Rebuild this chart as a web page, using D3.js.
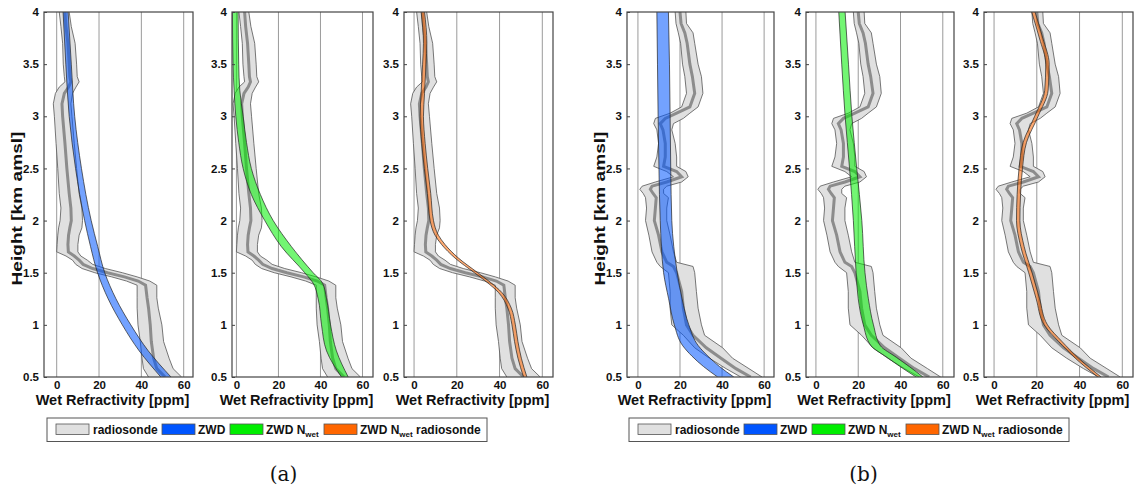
<!DOCTYPE html>
<html>
<head>
<meta charset="utf-8">
<script src="https://cdn.jsdelivr.net/npm/d3@7"></script>
<style>
  body { margin: 0; background: #fff; }
  text { font-family: "Liberation Sans", Arial, sans-serif; font-weight: bold; fill: #111; }
  .cap { font-family: "DejaVu Serif", "Liberation Serif", serif; font-weight: normal; }
</style>
</head>
<body>
<svg id="fig" width="1134" height="491"></svg>
<script>
// axis ticks
const yTicks = [0.5, 1, 1.5, 2, 2.5, 3, 3.5, 4];
const yTickLabels = ["0.5", "1", "1.5", "2", "2.5", "3", "3.5", "4"];
const xTicks = [0, 20, 40, 60];
const xDomains = [[-6, 64.4], [-2.1, 65], [-4.7, 65], [-5.2, 64.7], [-4.7, 65.3], [-4.7, 65]];

// radiosonde (a): height, mean, lower, upper
const rsA_h  = [4.00,3.86,3.70,3.50,3.38,3.33,3.28,3.22,3.12,3.00,2.74,2.50,2.26,2.12,2.00,1.93,1.86,1.77,1.70,1.66,1.62,1.58,1.54,1.50,1.46,1.42,1.38,1.26,1.16,1.00,0.84,0.68,0.58,0.50];
const rsA_m  = [3.9,4.4,5.3,5.9,6.2,6.7,5.6,3.6,2.5,2.8,3.9,4.8,5.9,6.7,6.9,6.2,5.6,5.3,5.5,8.3,10.6,12.5,17,24,32,38.5,42,42.7,43.4,44.2,44.7,45.8,47.3,51.2];
const rsA_lo = [1.2,2.0,2.8,3.1,3.6,3.9,1.2,-0.6,-1.6,-1.1,-0.3,0.5,1.2,2.0,1.6,0.9,0.5,0.2,0.0,4.4,7.5,9.0,12,18,26,33,38,38,38,38.4,39.5,40.3,41,43.4];
const rsA_hi = [5.9,6.9,8.7,9.4,9.7,10.6,9.1,7.5,6.7,7.2,8.3,9.4,10.6,11.9,12.2,11.9,10.6,10,10,11.4,14.5,17,23,31,38,44,47.3,47.3,48,49.7,50.5,53.1,55,59];

// radiosonde (b)
const rsB_h  = [4.00,3.89,3.80,3.70,3.50,3.38,3.22,3.09,3.03,2.98,2.93,2.87,2.74,2.61,2.52,2.47,2.42,2.37,2.33,2.30,2.26,2.22,2.12,2.00,1.86,1.70,1.60,1.56,1.50,1.32,1.16,1.00,0.90,0.78,0.68,0.58,0.50];
const rsB_m  = [20,20.5,22.3,23.4,24.7,25.9,27,24.7,18.4,13,10.6,11.9,13,13,12.2,18.4,20.8,13.7,6.7,5.9,7.2,8.7,8.3,7.8,9.8,11.4,13.7,16.9,18.4,20.8,21.6,23.1,26.2,32.5,39.5,46.6,53.6];
const rsB_lo = [17.7,18.1,19.2,20.3,21.2,22.3,23.1,20.8,15.3,8.3,7.5,9,9.8,9,7.5,13.7,16.9,8.3,2,0.9,2.5,3.6,4.1,3.6,5.2,6.7,9,10.6,14.5,15.3,15.3,16.1,21.6,27,34,41.9,48.9];
const rsB_hi = [22.8,23.1,26.2,27,28.6,30.2,30.9,28.6,24.7,21.6,16.9,16.1,17.7,18.4,18.4,22.8,23.9,20.8,13.7,12.2,12.2,14.5,13.7,13.7,15.3,16.9,18.4,26.2,27,27.8,28.6,30.2,31.7,40.3,45,52.8,59];

// ZWD
const zwdA_h  = [4.0,3.5,3.0,2.5,2.0,1.75,1.5,1.25,1.0,0.75,0.5];
const zwdA_lo = [3.0,4.3,5.9,8.9,13.2,16,19.3,24.3,31,39,49.2];
const zwdA_hi = [5.4,6.9,8.5,11.7,16.3,19.4,22.7,28,35,43.3,54];
const zwdB_h  = [4.0,3.5,3.0,2.5,2.0,1.5,1.25,1.0,0.8,0.7,0.6,0.5];
const zwdB_lo = [9.0,9.3,9.6,10.0,10.6,12.2,14.6,17.3,21.3,25.7,31.2,37.9];
const zwdB_hi = [14.5,15.0,15.3,15.6,16.1,18.7,21.0,24.2,28.7,33.3,38.8,45.6];

// ZWD Nwet
const nwetA_h  = [4.0,3.5,3.25,3.0,2.75,2.5,2.25,2.0,1.75,1.5,1.4,1.25,1.0,0.75,0.5];
const nwetA_lo = [-1.9,-1.6,-1.1,-0.3,1.1,3.2,7.1,13.5,21.4,32.5,36.5,38.9,40.5,42.9,50];
const nwetA_hi = [0.8,1.1,1.6,3.2,4.8,7.1,11.4,17.5,26.2,36.5,41,42.9,44.8,47.6,53.2];
const nwetB_h  = [4.0,3.5,3.0,2.5,2.0,1.5,1.25,1.0,0.8,0.69,0.6,0.5];
const nwetB_lo = [10.8,12.2,13.8,15.9,17.7,19.0,20.0,22.4,26,33.5,39.8,47.4];
const nwetB_hi = [13.8,15.4,17.0,19.3,21.7,23.2,24.8,27.2,30.5,38,44.2,50.6];

// ZWD Nwet radiosonde (centre line, narrow band)
const nrsA_h = [4.0,3.7,3.5,3.22,3.0,2.74,2.5,2.26,2.0,1.86,1.77,1.64,1.5,1.41,1.31,1.16,1.0,0.84,0.68,0.5];
const nrsA_c = [4.1,5.2,4.8,4.1,3.6,4.4,5.6,7.0,8.3,10.6,13.7,20,29,34.8,40.3,44.7,46.6,47.8,49.4,52];
const nrsB_h = [4.0,3.75,3.5,3.25,3.0,2.75,2.5,2.25,2.0,1.75,1.5,1.25,1.0,0.84,0.68,0.5];
const nrsB_c = [18.4,22,25,24.5,19.8,14.4,12.5,11.6,11.3,13.3,17,20.5,24.2,31,38.8,49.3];
const nrsHalf = 0.8;

const legendNames = ["radiosonde", "ZWD", "ZWD N", "ZWD N"];
const colors = { rs: "#e0e0e0", zwd: "#0055ff", nwet: "#00ee00", nrs: "#ff6600" };

const svg = d3.select("#fig");
const plotTop = 12, plotBottom = 377;
const frames = [[44, 193], [232, 373], [404, 553], [627, 774], [806, 954], [984, 1133]];

function zipBand(h, lo, hi) { return h.map((d, i) => ({ h: d, lo: lo[i], hi: hi[i] })); }

const rsA = rsA_h.map((d, i) => ({ h: d, m: rsA_m[i], lo: rsA_lo[i], hi: rsA_hi[i] }));
const rsB = rsB_h.map((d, i) => ({ h: d, m: rsB_m[i], lo: rsB_lo[i], hi: rsB_hi[i] }));
const models = [
  zipBand(zwdA_h, zwdA_lo, zwdA_hi),
  zipBand(nwetA_h, nwetA_lo, nwetA_hi),
  zipBand(nrsA_h, nrsA_c.map(c => c - nrsHalf), nrsA_c.map(c => c + nrsHalf)),
  zipBand(zwdB_h, zwdB_lo, zwdB_hi),
  zipBand(nwetB_h, nwetB_lo, nwetB_hi),
  zipBand(nrsB_h, nrsB_c.map(c => c - nrsHalf), nrsB_c.map(c => c + nrsHalf))
];
const modelColors = [colors.zwd, colors.nwet, colors.nrs, colors.zwd, colors.nwet, colors.nrs];

const y = d3.scaleLinear().domain([0.5, 4]).range([plotBottom, plotTop]);

frames.forEach((f, k) => {
  const x = d3.scaleLinear().domain(xDomains[k]).range(f);
  const rs = k < 3 ? rsA : rsB;
  const g = svg.append("g");

  g.append("clipPath").attr("id", "clip" + k)
    .append("rect").attr("x", f[0]).attr("y", plotTop).attr("width", f[1] - f[0]).attr("height", plotBottom - plotTop);
  const inner = g.append("g").attr("clip-path", "url(#clip" + k + ")");

  // grid
  inner.selectAll("line.grid").data(xTicks).join("line")
    .attr("x1", d => x(d)).attr("x2", d => x(d)).attr("y1", plotTop).attr("y2", plotBottom)
    .attr("stroke", "#9a9a9a").attr("stroke-width", 1);

  // radiosonde band
  inner.append("path").datum(rs)
    .attr("d", d3.area().y(d => y(d.h)).x0(d => x(d.lo)).x1(d => x(d.hi)))
    .attr("fill", colors.rs);
  ["lo", "hi"].forEach(key => {
    inner.append("path").datum(rs)
      .attr("d", d3.line().y(d => y(d.h)).x(d => x(d[key])))
      .attr("fill", "none").attr("stroke", "#555").attr("stroke-width", 0.8);
  });
  inner.append("path").datum(rs)
    .attr("d", d3.line().y(d => y(d.h)).x(d => x(d.m)))
    .attr("fill", "none").attr("stroke", "#8c8c8c").attr("stroke-width", 3);

  // model band
  const m = models[k];
  inner.append("path").datum(m)
    .attr("d", d3.area().curve(d3.curveMonotoneY).y(d => y(d.h)).x0(d => x(d.lo)).x1(d => x(d.hi)))
    .attr("fill", modelColors[k]).attr("fill-opacity", 0.55);
  ["lo", "hi"].forEach(key => {
    inner.append("path").datum(m)
      .attr("d", d3.line().curve(d3.curveMonotoneY).y(d => y(d.h)).x(d => x(d[key])))
      .attr("fill", "none").attr("stroke", "#222").attr("stroke-width", 0.7);
  });

  // frame
  g.append("rect").attr("x", f[0]).attr("y", plotTop).attr("width", f[1] - f[0]).attr("height", plotBottom - plotTop)
    .attr("fill", "none").attr("stroke", "#444").attr("stroke-width", 1.2);

  // axes
  const ya = g.append("g").attr("transform", `translate(${f[0]},0)`)
    .call(d3.axisLeft(y).tickValues(yTicks).tickSize(-3).tickPadding(5).tickFormat((d, i) => yTickLabels[i]));
  ya.select(".domain").remove();
  ya.selectAll("line").attr("stroke", "#444");
  ya.selectAll("text").style("font-size", "11.5px").attr("fill", "#111");

  const xa = g.append("g").attr("transform", `translate(0,${plotBottom})`)
    .call(d3.axisBottom(x).tickValues(xTicks).tickSize(0).tickPadding(4));
  xa.select(".domain").remove();
  xa.selectAll("text").style("font-size", "11.5px").attr("fill", "#111");

  g.append("text").attr("x", (f[0] + f[1]) / 2 - 6).attr("y", 405).attr("text-anchor", "middle")
    .style("font-size", "14.5px").text("Wet Refractivity [ppm]");

  if (k === 0 || k === 3) {
    g.append("text").attr("transform", `translate(${f[0] - 22},${(plotTop + plotBottom) / 2 + 14}) rotate(-90)`)
      .attr("text-anchor", "middle").style("font-size", "14.5px")
      .attr("textLength", 154).attr("lengthAdjust", "spacingAndGlyphs").text("Height [km amsl]");
  }
});

// legends + captions
[[47, "(a)", 283.5], [629, "(b)", 863.5]].forEach(([lx, cap, cx]) => {
  const lg = svg.append("g").attr("transform", `translate(${lx},418)`);
  lg.append("rect").attr("width", 440).attr("height", 23.5).attr("fill", "#fff").attr("stroke", "#555").attr("stroke-width", 1);
  const sw = [[9, colors.rs], [115, colors.zwd], [183, colors.nwet], [277, colors.nrs]];
  const tx = [46, 151, 219, 313];
  sw.forEach((s, i) => {
    lg.append("rect").attr("x", s[0]).attr("y", 6).attr("width", 33).attr("height", 10.5)
      .attr("fill", s[1]).attr("stroke", "#555").attr("stroke-width", 0.8);
    const t = lg.append("text").attr("x", tx[i]).attr("y", 16).style("font-size", "12px").text(legendNames[i]);
    if (i >= 2) {
      t.append("tspan").attr("dy", 2.5).style("font-size", "8px").text("wet");
      if (i === 3) t.append("tspan").attr("dy", -2.5).text(" radiosonde");
    }
  });
  svg.append("text").attr("class", "cap").attr("x", cx).attr("y", 481).attr("text-anchor", "middle")
    .style("font-size", "20px").text(cap);
});
</script>
</body>
</html>
